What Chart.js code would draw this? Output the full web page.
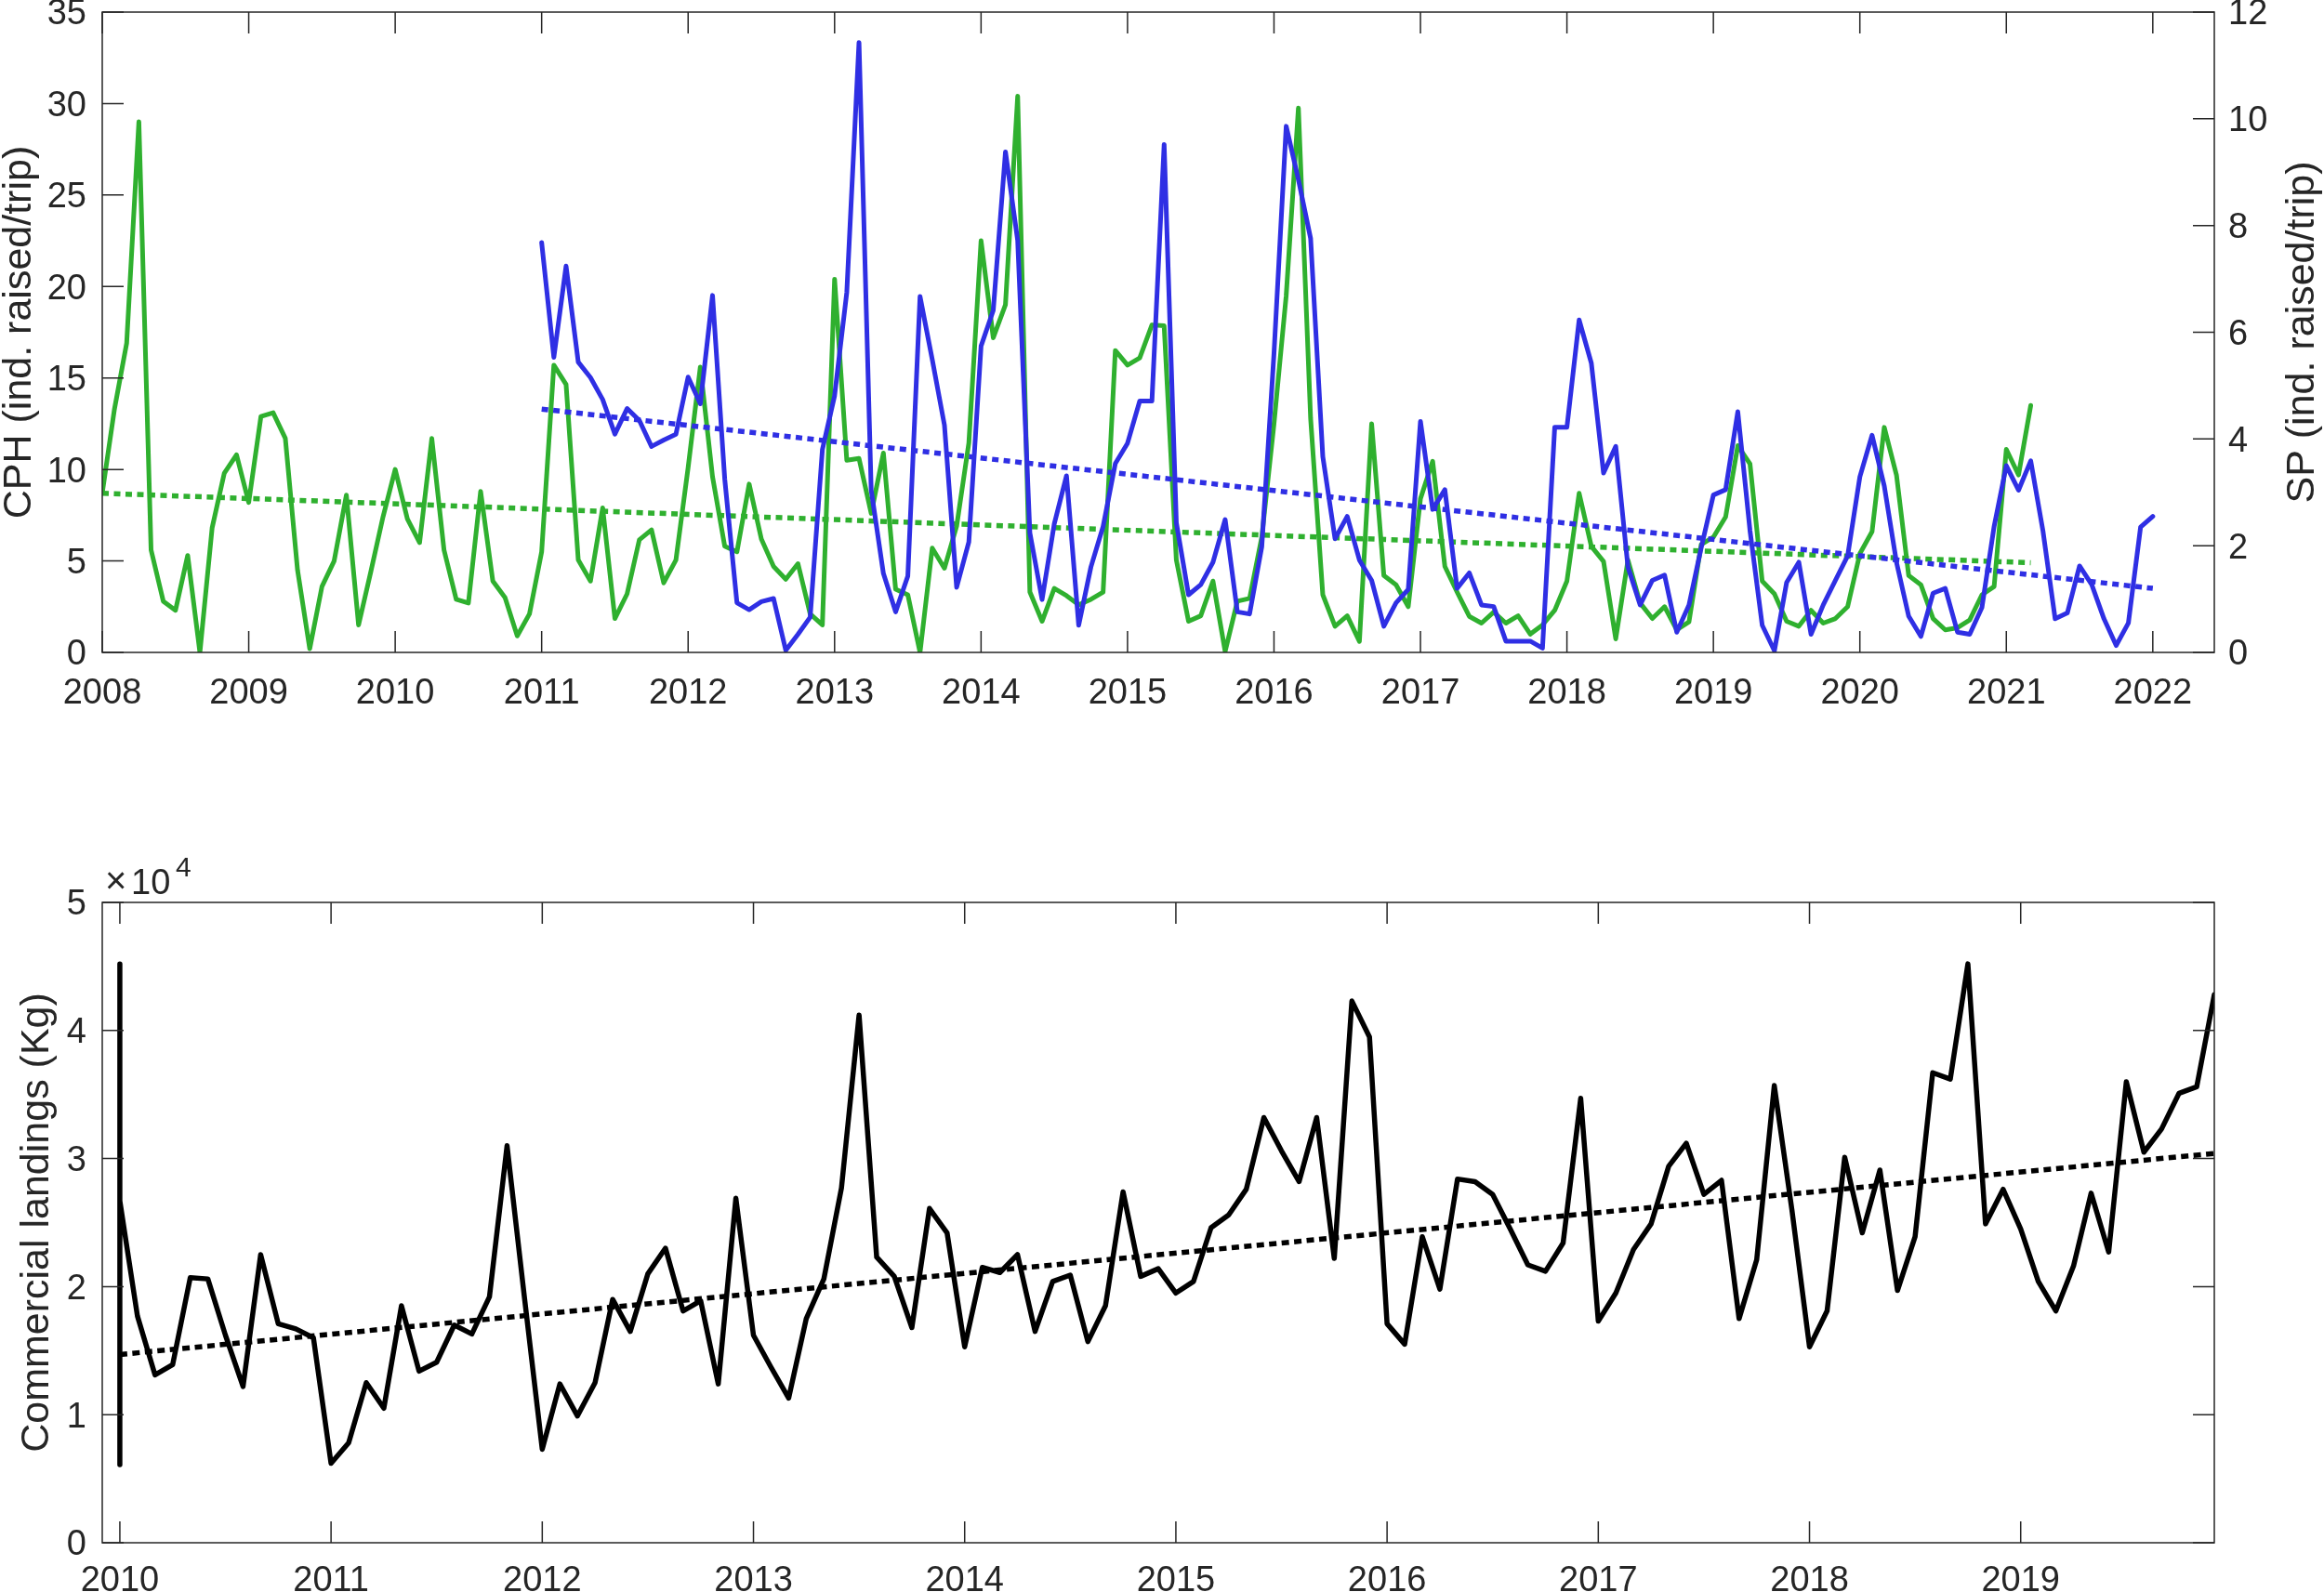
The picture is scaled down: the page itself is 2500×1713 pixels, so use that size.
<!DOCTYPE html>
<html>
<head>
<meta charset="utf-8">
<script src="https://cdn.jsdelivr.net/npm/chart.js@4.4.1/dist/chart.umd.min.js"></script>
<style>
  html, body { margin: 0; padding: 0; background: #fff; }
  body { width: 2500px; height: 1713px; position: relative; overflow: hidden; }
  canvas { position: absolute; left: 0; }
  #topChart { top: 0; }
  #bottomChart { top: 860px; }
</style>
</head>
<body>
<canvas id="topChart" width="2500" height="800"></canvas>
<canvas id="bottomChart" width="2500" height="853"></canvas>
<script>
// CPH, monthly from Jan 2008 to Mar 2021 (left axis)
const cphStart = 2008;
const cph = [
  8.7, 13.3, 16.9, 29.0, 5.6, 2.8, 2.3, 5.3, 0.0, 6.8, 9.8, 10.8,
  8.2, 12.9, 13.1, 11.7, 4.5, 0.2, 3.6, 5.0, 8.6, 1.5, 4.4, 7.4,
  10.0, 7.3, 6.0, 11.7, 5.6, 2.9, 2.7, 8.8, 3.9, 3.0, 0.9, 2.1,
  5.5, 15.7, 14.65, 5.05, 3.9, 7.9, 1.85, 3.2, 6.15, 6.7, 3.8, 5.05,
  10.1, 15.6, 9.6, 5.8, 5.5, 9.2, 6.2, 4.7, 4.0, 4.85, 2.1, 1.5,
  20.4, 10.5, 10.6, 7.6, 10.9, 3.45, 3.15, 0.0, 5.7, 4.6, 6.9, 11.45,
  22.5, 17.2, 19.0, 30.4, 3.3, 1.7, 3.5, 3.1, 2.6, 2.9, 3.3, 16.5,
  15.7, 16.1, 17.9, 17.85, 5.05, 1.7, 2.0, 3.9, 0.05, 2.8, 2.95, 6.3,
  12.5, 19.5, 29.75, 12.8, 3.15, 1.43, 2.0, 0.6, 12.5, 4.2, 3.7, 2.5,
  8.4, 10.45, 4.7, 3.3, 1.97, 1.6, 2.2, 1.6, 2.0, 1.0, 1.5, 2.3,
  3.9, 8.7, 5.8, 4.97, 0.74, 5.05, 2.7, 1.85, 2.5, 1.23, 1.67, 5.9,
  6.3, 7.4, 11.3, 10.3, 3.9, 3.2, 1.7, 1.43, 2.3, 1.6, 1.85, 2.5,
  5.4, 6.6, 12.3, 9.7, 4.2, 3.7, 1.85, 1.23, 1.35, 1.77, 3.15, 3.6,
  11.1, 9.7, 13.5
];

// SP, monthly from Jan 2011 to Jan 2022 (right axis)
const spStart = 2011;
const sp = [
  7.68, 5.53, 7.24, 5.44, 5.15, 4.74, 4.09, 4.57, 4.35, 3.86, 3.98, 4.09,
  5.16, 4.66, 6.69, 3.25, 0.93, 0.80, 0.95, 1.01, 0.04, 0.34, 0.66, 3.8,
  4.81, 6.75, 11.43, 3.04, 1.48, 0.76, 1.43, 6.67, 5.49, 4.26, 1.22, 2.07,
  5.74, 6.41, 9.38, 7.72, 2.24, 0.99, 2.41, 3.31, 0.51, 1.6, 2.36, 3.54,
  3.92, 4.71, 4.71, 9.52, 2.43, 1.08, 1.27, 1.69, 2.49, 0.76, 0.72, 1.98,
  5.6, 9.86, 8.86, 7.76, 3.67, 2.13, 2.55, 1.73, 1.35, 0.49, 0.93, 1.18,
  4.33, 2.68, 3.05, 1.2, 1.49, 0.89, 0.86, 0.21, 0.21, 0.21, 0.08, 4.22,
  4.22, 6.23, 5.42, 3.36, 3.86, 1.6, 0.89, 1.35, 1.45, 0.38, 0.89, 1.96,
  2.95, 3.05, 4.51, 2.28, 0.51, 0.03, 1.31, 1.69, 0.34, 0.89, 1.35, 1.81,
  3.29, 4.07, 3.12, 1.69, 0.68, 0.3, 1.11, 1.2, 0.38, 0.34, 0.84, 2.36,
  3.5, 3.04, 3.59, 2.28, 0.63, 0.74, 1.62, 1.27, 0.63, 0.13, 0.55, 2.35,
  2.55
];

// linear trends (end points)
const cphTrendX = [2008, 2021.1667];
const cphTrendY = [8.7, 4.9];
const spTrendX = [2011, 2022];
const spTrendY = [4.56, 1.2];

const topYears = [2008, 2009, 2010, 2011, 2012, 2013, 2014, 2015, 2016, 2017, 2018, 2019, 2020, 2021, 2022];
const cphTicks = [0, 5, 10, 15, 20, 25, 30, 35];
const spTicks = [0, 2, 4, 6, 8, 10, 12];

// Commercial landings (x10^4 Kg), monthly from Jan 2010 to Dec 2019
const landStart = 2010;
const landingsJan2010Extra = [4.52, 0.61]; // two more records on Jan 2010
const landings = [
  2.67, 1.77, 1.31, 1.39, 2.07, 2.06, 1.62, 1.22, 2.25, 1.71, 1.67, 1.60,
  0.62, 0.78, 1.25, 1.05, 1.85, 1.34, 1.41, 1.70, 1.63, 1.92, 3.10, 1.90,
  0.73, 1.24, 0.99, 1.25, 1.90, 1.65, 2.10, 2.30, 1.81, 1.89, 1.24, 2.69,
  1.62, 1.37, 1.13, 1.75, 2.06, 2.77, 4.12, 2.23, 2.08, 1.68, 2.61, 2.42,
  1.53, 2.15, 2.11, 2.25, 1.65, 2.04, 2.09, 1.57, 1.85, 2.74, 2.08, 2.14,
  1.95, 2.04, 2.46, 2.56, 2.76, 3.32, 3.06, 2.82, 3.32, 2.22, 4.23, 3.95,
  1.71, 1.55, 2.39, 1.98, 2.84, 2.82, 2.72, 2.45, 2.17, 2.12, 2.34, 3.47,
  1.73, 1.95, 2.29, 2.49, 2.94, 3.12, 2.72, 2.83, 1.75, 2.21, 3.57, 2.60,
  1.53, 1.81, 3.01, 2.42, 2.91, 1.97, 2.39, 3.67, 3.62, 4.52, 2.49, 2.76,
  2.45, 2.04, 1.81, 2.16, 2.73, 2.27, 3.60, 3.05, 3.23, 3.51, 3.56, 4.28
];
const landTrendX = [2010, 2019.9167];
const landTrendY = [1.47, 3.04];

const bottomYears = [2010, 2011, 2012, 2013, 2014, 2015, 2016, 2017, 2018, 2019];
const landTicks = [0, 1, 2, 3, 4, 5];

const green = "#2fb02f";
const blue = "#2f2fe4";
const ink = "#262626";
const fontFamily = "'Liberation Sans', Arial, sans-serif";

Chart.defaults.font.family = fontFamily;
Chart.defaults.font.size = 38;
Chart.defaults.color = ink;

function monthly(start, values) {
  return values.map((v, i) => ({ x: start + i / 12, y: v }));
}
function pairs(xs, ys) {
  return xs.map((x, i) => ({ x: x, y: ys[i] }));
}
function setTicks(list) {
  return function (scale) {
    scale.ticks = list.map(v => ({ value: v }));
  };
}
// fixed axis size, and no extra room for the end labels
function fixWidth(w) {
  return function (scale) {
    scale.width = w;
    scale.paddingTop = 0;
    scale.paddingBottom = 0;
  };
}
function fixHeight(h) {
  return function (scale) {
    scale.height = h;
    scale.paddingLeft = 0;
    scale.paddingRight = 0;
  };
}

/* box around the plot and inward ticks on all sides, like matlab */
const boxTicks = {
  id: "boxTicks",
  afterDatasetsDraw(chart, args, opts) {
    const ctx = chart.ctx;
    const a = chart.chartArea;
    const len = opts.length;
    ctx.save();
    ctx.strokeStyle = ink;
    ctx.lineWidth = 1.5;
    ctx.beginPath();
    const xs = chart.scales.x;
    xs.ticks.forEach(t => {
      const px = xs.getPixelForValue(t.value);
      ctx.moveTo(px, a.bottom);
      ctx.lineTo(px, a.bottom - len);
      ctx.moveTo(px, a.top);
      ctx.lineTo(px, a.top + len);
    });
    const ls = chart.scales[opts.left];
    ls.ticks.forEach(t => {
      const py = ls.getPixelForValue(t.value);
      ctx.moveTo(a.left, py);
      ctx.lineTo(a.left + len, py);
    });
    const rs = chart.scales[opts.right];
    rs.ticks.forEach(t => {
      const py = rs.getPixelForValue(t.value);
      ctx.moveTo(a.right, py);
      ctx.lineTo(a.right - len, py);
    });
    ctx.stroke();
    ctx.strokeRect(a.left, a.top, a.right - a.left, a.bottom - a.top);
    ctx.restore();
  }
};

/* right axis title, read from bottom to top like the left one */
const rightTitle = {
  id: "rightTitle",
  afterDraw(chart, args, opts) {
    const ctx = chart.ctx;
    const a = chart.chartArea;
    ctx.save();
    ctx.fillStyle = ink;
    ctx.font = "43px " + fontFamily;
    ctx.textAlign = "center";
    ctx.textBaseline = "middle";
    ctx.translate(opts.x, (a.top + a.bottom) / 2);
    ctx.rotate(-Math.PI / 2);
    ctx.fillText(opts.text, 0, 0);
    ctx.restore();
  }
};

/* the x10^4 exponent label above the y axis */
const exponentLabel = {
  id: "exponentLabel",
  afterDraw(chart) {
    const ctx = chart.ctx;
    const a = chart.chartArea;
    ctx.save();
    ctx.fillStyle = ink;
    ctx.textBaseline = "alphabetic";
    ctx.font = "40px " + fontFamily;
    ctx.fillText("\u00d7", a.left + 3, a.top - 10);
    ctx.font = "38px " + fontFamily;
    ctx.fillText("10", a.left + 31, a.top - 9);
    ctx.font = "30px " + fontFamily;
    ctx.fillText("4", a.left + 79, a.top - 28);
    ctx.restore();
  }
};

const noGrid = { display: false, drawTicks: false };
const noBorder = { display: false };

// top chart: CPH and SP
const topCtx = document.getElementById("topChart").getContext("2d");
const topChart = new Chart(topCtx, {
  type: "line",
  data: {
    datasets: [
      {
        label: "SP trend",
        data: pairs(spTrendX, spTrendY),
        yAxisID: "y1",
        borderColor: blue,
        borderWidth: 5.5,
        borderDash: [7, 5.5],
        pointRadius: 0
      },
      {
        label: "SP",
        data: monthly(spStart, sp),
        yAxisID: "y1",
        borderColor: blue,
        borderWidth: 5,
        borderJoinStyle: "round",
        borderCapStyle: "round",
        pointRadius: 0
      },
      {
        label: "CPH trend",
        data: pairs(cphTrendX, cphTrendY),
        yAxisID: "y",
        borderColor: green,
        borderWidth: 5.5,
        borderDash: [7, 5.5],
        pointRadius: 0
      },
      {
        label: "CPH",
        data: monthly(cphStart, cph),
        yAxisID: "y",
        borderColor: green,
        borderWidth: 5,
        borderJoinStyle: "round",
        borderCapStyle: "round",
        pointRadius: 0
      }
    ]
  },
  options: {
    responsive: false,
    animation: false,
    devicePixelRatio: 1,
    layout: { padding: { top: 13, left: 0, right: 0, bottom: 0 } },
    plugins: {
      legend: { display: false },
      tooltip: { enabled: false },
      boxTicks: { length: 23, left: "y", right: "y1" },
      rightTitle: { text: "SP (ind. raised/trip)", x: 2477 }
    },
    elements: { line: { tension: 0 } },
    scales: {
      x: {
        type: "linear",
        min: 2008,
        max: 2022.42,
        grid: noGrid,
        border: noBorder,
        afterBuildTicks: setTicks(topYears),
        afterFit: fixHeight(98),
        ticks: {
          padding: 22,
          autoSkip: false,
          maxRotation: 0,
          callback: v => String(v)
        }
      },
      y: {
        position: "left",
        min: 0,
        max: 35,
        grid: noGrid,
        border: noBorder,
        afterBuildTicks: setTicks(cphTicks),
        afterFit: fixWidth(110),
        ticks: { padding: 17, labelOffset: 3, callback: v => String(v) },
        title: {
          display: true,
          text: "CPH (ind. raised/trip)",
          font: { size: 43, lineHeight: 1 },
          padding: { top: 0, bottom: 0 }
        }
      },
      y1: {
        position: "right",
        min: 0,
        max: 12,
        grid: noGrid,
        border: noBorder,
        afterBuildTicks: setTicks(spTicks),
        afterFit: fixWidth(118),
        ticks: { padding: 15, labelOffset: 3, callback: v => String(v) }
      }
    }
  },
  plugins: [boxTicks, rightTitle]
});

// bottom chart: commercial landings
const landPoints = landingsJan2010Extra.map(v => ({ x: landStart, y: v }))
  .concat(monthly(landStart, landings));

const bottomCtx = document.getElementById("bottomChart").getContext("2d");
const bottomChart = new Chart(bottomCtx, {
  type: "line",
  data: {
    datasets: [
      {
        label: "trend",
        data: pairs(landTrendX, landTrendY),
        borderColor: "#000",
        borderWidth: 5.5,
        borderDash: [8, 5.5],
        pointRadius: 0
      },
      {
        label: "Commercial landings",
        data: landPoints,
        borderColor: "#000",
        borderWidth: 5.5,
        borderJoinStyle: "round",
        borderCapStyle: "round",
        pointRadius: 0
      }
    ]
  },
  options: {
    responsive: false,
    animation: false,
    devicePixelRatio: 1,
    layout: { padding: { top: 111, left: 0, right: 118, bottom: 0 } },
    plugins: {
      legend: { display: false },
      tooltip: { enabled: false },
      boxTicks: { length: 23, left: "y", right: "y" }
    },
    elements: { line: { tension: 0 } },
    scales: {
      x: {
        type: "linear",
        min: 2009.9167,
        max: 2019.9167,
        grid: noGrid,
        border: noBorder,
        afterBuildTicks: setTicks(bottomYears),
        afterFit: fixHeight(53),
        ticks: {
          padding: 19,
          autoSkip: false,
          maxRotation: 0,
          callback: v => String(v)
        }
      },
      y: {
        position: "left",
        min: 0,
        max: 5,
        grid: noGrid,
        border: noBorder,
        afterBuildTicks: setTicks(landTicks),
        afterFit: fixWidth(110),
        ticks: { padding: 17, labelOffset: 3, callback: v => String(v) },
        title: {
          display: true,
          text: "Commercial landings (Kg)",
          font: { size: 43, lineHeight: 1 },
          padding: { top: 19, bottom: 0 }
        }
      }
    }
  },
  plugins: [boxTicks, exponentLabel]
});
</script>
</body>
</html>
